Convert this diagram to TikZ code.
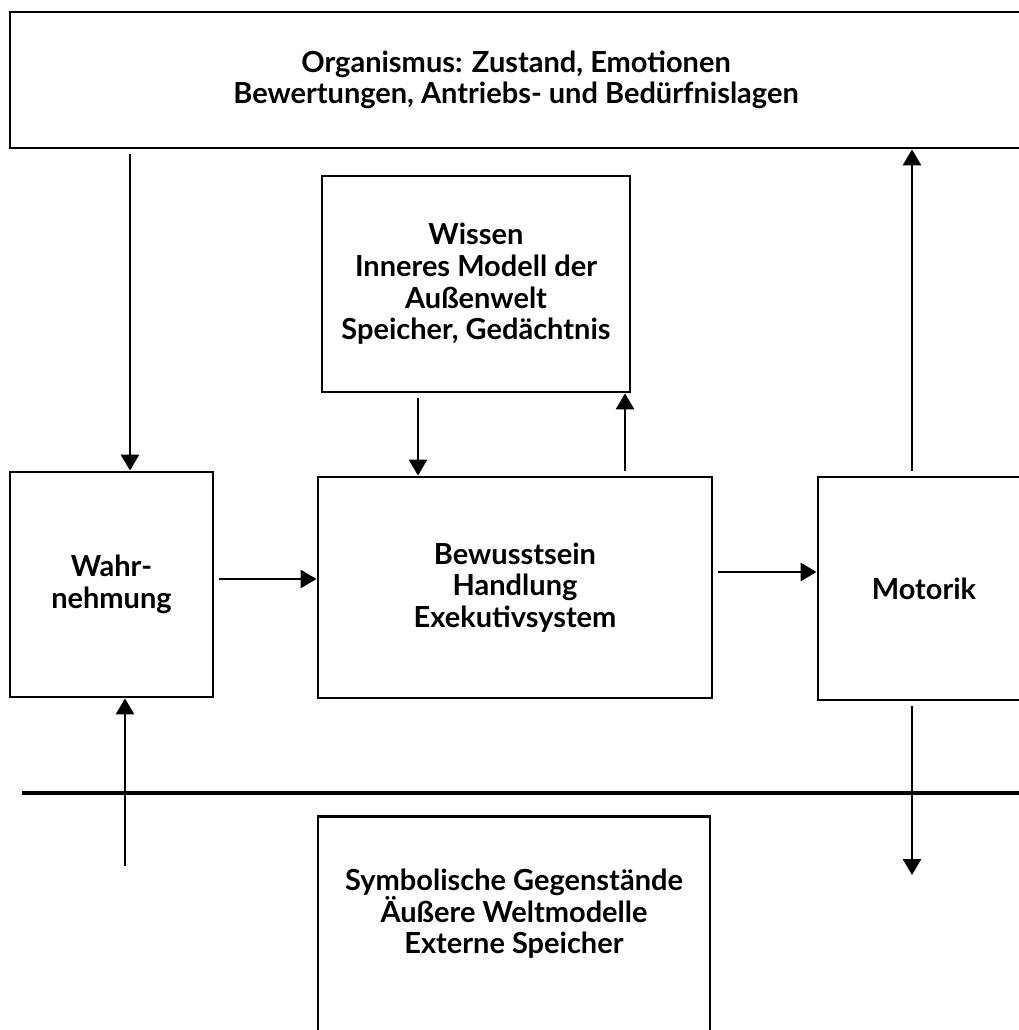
\documentclass[tikz,border=0pt]{standalone}
\usepackage{fontspec}
\setmainfont{Lato}
\usetikzlibrary{arrows.meta}
\tikzset{
>={Triangle[length=0.32cm, width=0.36cm]}, % filled arrow heads
box/.style={draw, line width=1.6pt, inner sep=0pt, align=center, font=\bfseries\fontsize{16.5}{18}\selectfont}, % all boxes
}

\begin{document}
\begin{tikzpicture}[line width=1.6pt]
        \useasboundingbox (0,0) rectangle (20.38,-20.6);
        \clip (0,0) rectangle (20.38,-20.6);
        \node[box, minimum width=20.24cm, minimum height=2.72cm] at (10.32,-1.6) (org) {Organismus: Zustand, Emotionen\\Bewertungen, Antriebs- und Bedürfnislagen};
        \node[box, minimum width=6.16cm, minimum height=4.32cm] at (9.52,-5.68) (wis) {Wissen\\Inneres Modell der\\Außenwelt\\Speicher, Gedächtnis};
        \node[box, minimum width=4.06cm, minimum height=4.5cm] at (2.23,-11.69) (wahr) {Wahr-\\nehmung};
        \node[box, minimum width=7.88cm, minimum height=4.42cm] at (10.3,-11.75) (bew) {Bewusstsein\\Handlung\\Exekutivsystem};
        \node[box, minimum width=4.24cm, minimum height=4.46cm] at (18.48,-11.77) (mot) {Motorik};
        % box runs off the bottom edge
        \node[box, minimum width=7.84cm, anchor=north, inner ysep=1.05cm, text depth=4cm] at (10.28,-16.3) (sym) {Symbolische Gegenstände\\Äußere Weltmodelle\\Externe Speicher};
        \coordinate (c1) at (2.6,0);
        \coordinate (c2) at (8.36,0);
        \coordinate (c3) at (12.5,0);
        \coordinate (c4) at (18.24,0);
        \coordinate (c5) at (2.5,-17.4);
        \coordinate (c6) at (18.24,-17.5);
        \coordinate (r1) at (0,-11.58);
        \coordinate (r2) at (0,-11.44);
        \coordinate (l1) at (0.44,-15.86);
        \coordinate (l2) at (20.6,-15.86);
        \path[->, shorten <=2.5pt]
        (org.south -| c1) edge (wahr.north -| c1)
        (wis.south -| c2) edge (bew.north -| c2)
        (bew.north -| c3) edge (wis.south -| c3)
        (wahr.east |- r1) edge (bew.west |- r1)
        (bew.east |- r2) edge (mot.west |- r2)
        (mot.north -| c4) edge (org.south -| c4)
        (c5) edge (wahr.south -| c5)
        (mot.south -| c4) edge (c6)
        ;
        \draw[line width=2pt] (l1) -- (l2);
    \end{tikzpicture}
\end{document}
